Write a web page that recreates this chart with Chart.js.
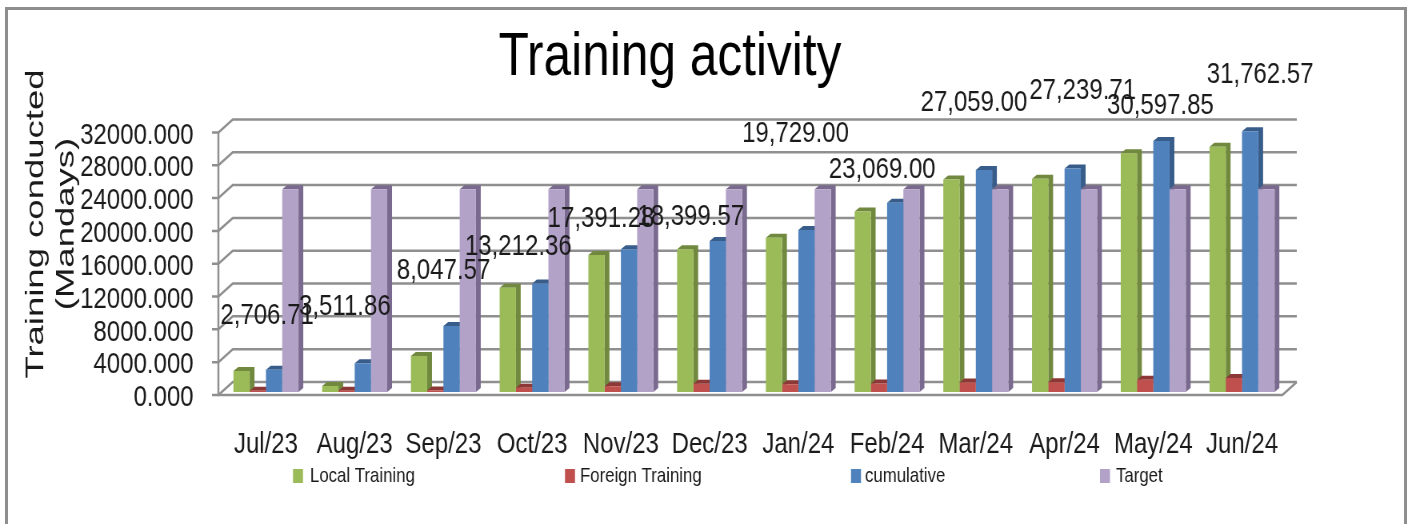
<!DOCTYPE html>
<html>
<head>
<meta charset="utf-8">
<title>Training activity</title>
<script src="https://cdn.jsdelivr.net/npm/chart.js@4"></script>
<style>
html, body { margin: 0; padding: 0; background: #fff; overflow: hidden; width: 1407px; height: 524px; }
#frame { position: absolute; left: 5px; top: 7px; width: 1396px; height: 600px; border: 3px solid #8e8e8e; }
/* the original picture is squeezed sideways, so the canvas is too */
#trainingChart { position: absolute; left: 0; top: 0; transform: scaleX(0.8); transform-origin: 0 0; }
</style>
</head>
<body>
<div id="frame"></div>
<canvas id="trainingChart" width="1759" height="524"></canvas>
<script>
var meses = ['Jul/23','Aug/23','Sep/23','Oct/23','Nov/23','Dec/23','Jan/24','Feb/24','Mar/24','Apr/24','May/24','Jun/24'];
var local_training = [2550,730,4380,12700,16700,17400,18800,22000,25900,26000,29100,29900];
var foreign_training = [157,145,195,512,690,1000,930,1050,1150,1200,1500,1700];
var cumulative = [2706.71,3511.86,8047.57,13212.36,17391.28,18399.57,19729.00,23069.00,27059.00,27239.71,30597.85,31762.57];
var target = [24700,24700,24700,24700,24700,24700,24700,24700,24700,24700,24700,24700];

var squeeze = 0.8;

// where each hand placed label sits relative to the top of its cumulative bar (page pixels)
var label_dx = [-7,-18,-8,-22,-28,-27,-11,-13,-10,10,-1,10];
var label_dy = [-54,-56,-55,-37,-31,-24,-96,-33,-67,-78,-35,-57];
// legend layout (page pixels)
var legend_box_x = [293,565,851,1100];
var legend_text_x = [310,580,865,1116];

var sans = '"Liberation Sans", sans-serif';
var side_colors = ['#71893f','#8c3836','#385d8a','#7a6a8f'];
var grid_color = '#8f8f8f';
var depth_x = 18, depth_y = 13;   // walls
var bar_dx = 6, bar_dy = 4;       // bar sides
var tick_shift = 3;

// fake 3D: back wall, floor and the side/top faces of the bars
var walls3d = {
    id: 'walls3d',
    beforeDatasetsDraw: function(chart){
        var ctx = chart.ctx, y = chart.scales.y, a = chart.chartArea;
        var left = a.left - 4, right = a.right - 5;
        ctx.save();
        ctx.strokeStyle = grid_color;
        ctx.lineWidth = 2.5;
        y.ticks.forEach(function(t){
            var p = y.getPixelForValue(t.value) + tick_shift;
            ctx.beginPath();
            ctx.moveTo(left - 8, p);
            ctx.lineTo(left, p);
            ctx.lineTo(left + depth_x, p - depth_y);
            ctx.lineTo(right + depth_x, p - depth_y);
            ctx.stroke();
        });
        var zero = y.getPixelForValue(0) + tick_shift;
        var top = y.getPixelForValue(32000) + tick_shift;
        ctx.beginPath();
        ctx.moveTo(left, top);
        ctx.lineTo(left, zero);
        ctx.lineTo(right, zero);
        ctx.lineTo(right + depth_x, zero - depth_y);
        ctx.stroke();

        chart.data.datasets.forEach(function(ds, i){
            chart.getDatasetMeta(i).data.forEach(function(bar){
                var l = bar.x - bar.width / 2, r = bar.x + bar.width / 2;
                ctx.fillStyle = side_colors[i];
                ctx.beginPath();
                ctx.moveTo(l, bar.y);
                ctx.lineTo(l + bar_dx, bar.y - bar_dy);
                ctx.lineTo(r + bar_dx, bar.y - bar_dy);
                ctx.lineTo(r + bar_dx, bar.base - bar_dy);
                ctx.lineTo(r, bar.base);
                ctx.lineTo(r, bar.y);
                ctx.closePath();
                ctx.fill();
            });
        });
        ctx.restore();
    },
    afterDatasetsDraw: function(chart){
        var ctx = chart.ctx;
        var bars = chart.getDatasetMeta(2).data;
        ctx.save();
        ctx.fillStyle = '#1a1a1a';
        ctx.font = '30px ' + sans;
        ctx.textAlign = 'center';
        ctx.textBaseline = 'middle';
        cumulative.forEach(function(v, i){
            var txt = v.toLocaleString('en-US', {minimumFractionDigits: 2, maximumFractionDigits: 2});
            ctx.fillText(txt, bars[i].x + label_dx[i] / squeeze, bars[i].y + label_dy[i]);
        });

        // legend, its gaps are uneven so chart.js can't lay it out
        ctx.textAlign = 'left';
        ctx.font = '21px ' + sans;
        chart.data.datasets.forEach(function(ds, i){
            ctx.fillStyle = ds.backgroundColor;
            ctx.fillRect(legend_box_x[i] / squeeze, 469, 10 / squeeze, 14);
            ctx.fillStyle = '#1a1a1a';
            ctx.fillText(ds.label, legend_text_x[i] / squeeze, 476);
        });

        // y axis title, sits above the middle of the axis and is stretched along its length
        ctx.textAlign = 'center';
        ctx.fillStyle = '#1a1a1a';
        ctx.font = '25px ' + sans;
        ctx.translate(36 / squeeze, 224);
        ctx.scale(1 / squeeze, 1);
        ctx.rotate(-Math.PI / 2);
        ctx.scale(1.46, 1);
        ctx.fillText('Training conducted', 0, 0);
        ctx.fillText('(Mandays)', 0, 31);
        ctx.restore();
    }
};

var ctx = document.getElementById('trainingChart').getContext('2d');
var grafica = new Chart(ctx, {
    type: 'bar',
    data: {
        labels: meses,
        datasets: [
            { label: 'Local Training', data: local_training, backgroundColor: '#9bbb59' },
            { label: 'Foreign Training', data: foreign_training, backgroundColor: '#c0504d' },
            { label: 'cumulative', data: cumulative, backgroundColor: '#4f81bd' },
            { label: 'Target', data: target, backgroundColor: '#b3a2c7' }
        ]
    },
    options: {
        responsive: false,
        animation: false,
        categoryPercentage: 0.733,
        barPercentage: 1,
        layout: { padding: { left: 67, right: 151, top: 21, bottom: 34 } },
        scales: {
            x: {
                grid: { display: false },
                border: { display: false },
                ticks: { color: '#1a1a1a', font: { family: sans, size: 30 }, padding: 27, maxRotation: 0, autoSkip: false }
            },
            y: {
                min: 0,
                max: 32000,
                afterFit: function(scale){ scale.width = 210; },
                grid: { display: false },
                border: { display: false },
                ticks: {
                    stepSize: 4000,
                    color: '#1a1a1a',
                    padding: 27,
                    labelOffset: 6,
                    font: { family: sans, size: 30 },
                    autoSkip: false,
                    callback: function(v){ return v.toFixed(3); }
                }
            }
        },
        plugins: {
            title: {
                display: true,
                text: 'Training activity',
                color: '#000',
                font: { family: sans, size: 62, weight: 'normal' },
                padding: { top: 0, bottom: 34 }
            },
            legend: { display: false },
            tooltip: { enabled: false }
        }
    },
    plugins: [walls3d]
});
</script>
</body>
</html>
